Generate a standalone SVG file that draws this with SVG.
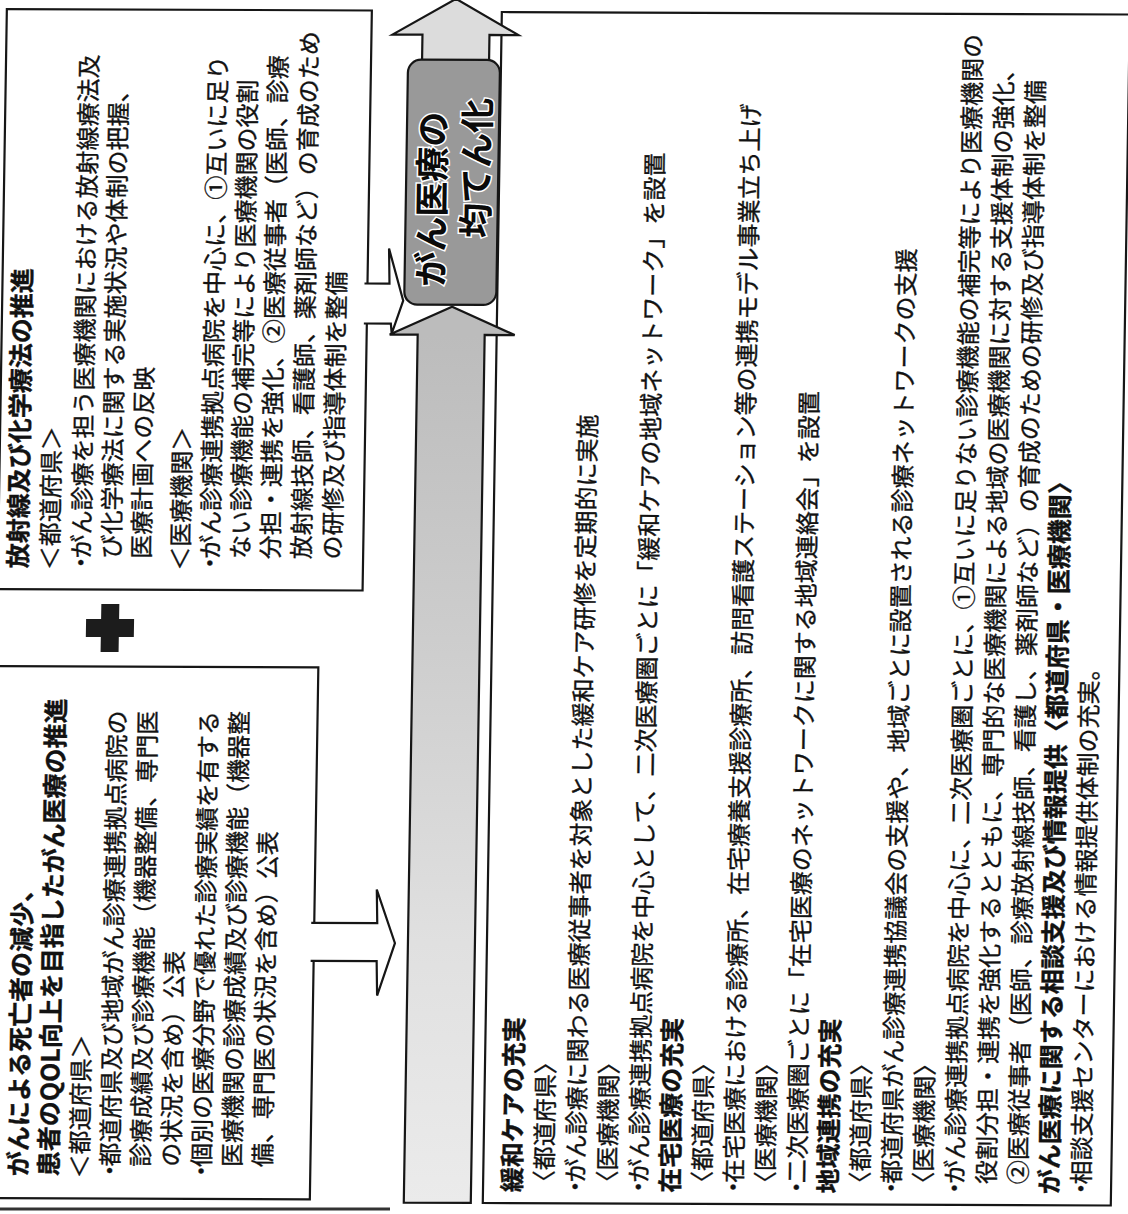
<svg xmlns="http://www.w3.org/2000/svg" width="1128" height="1214" viewBox="0 0 1128 1214">
<defs>
<style>
.t{font-family:"Noto Sans CJK JP","Noto Sans CJK SC",sans-serif;font-size:24px;fill:#121212;stroke:#121212;stroke-width:0.35}
.b{font-weight:700;font-size:25px}
.box{fill:none;stroke:#161616;stroke-width:2.2}
.arr{stroke:#161616;stroke-width:2.2;stroke-linejoin:miter}
.lab{font-family:"Noto Sans CJK JP","Noto Sans CJK SC",sans-serif;font-size:35px;font-weight:700;fill:#0a0a0a;stroke:#ffffff;stroke-width:3;paint-order:stroke}
</style>
<linearGradient id="shaft" gradientUnits="userSpaceOnUse" x1="0" y1="333" x2="0" y2="1201">
<stop offset="0" stop-color="#bcbcbc"/>
<stop offset="0.35" stop-color="#cdcdcd"/>
<stop offset="0.7" stop-color="#e0e0e0"/>
<stop offset="1" stop-color="#ebebeb"/>
</linearGradient>
</defs>
<rect width="1128" height="1214" fill="#ffffff"/>
<line x1="0" y1="1209" x2="390" y2="1209" stroke="#333" stroke-width="3"/>
<g transform="matrix(1,0.004,-0.016,1,0,0)">

<g id="node-radiation">
<rect class="box" x="7" y="9" width="365" height="580"/>
<g transform="rotate(-90)" class="t">
<text class="b" x="-568" y="36">放射線及び化学療法の推進</text>
<text x="-570" y="67.5">＜都道府県＞</text>
<text x="-574" y="99">・<tspan dx="-8">がん診療を担う医療機関における放射線療法及</tspan></text>
<text x="-558" y="129">び化学療法に関する実施状況や体制の把握、</text>
<text x="-558" y="159">医療計画への反映</text>
<text x="-570" y="198">＜医療機関＞</text>
<text x="-574" y="228">・<tspan dx="-8">がん診療連携拠点病院を中心に、①互いに足り</tspan></text>
<text x="-558" y="258">ない診療機能の補完等により医療機関の役割</text>
<text x="-558" y="288">分担・連携を強化、②医療従事者（医師、診療</text>
<text x="-558" y="319">放射線技師、看護師、薬剤師など）の育成のため</text>
<text x="-558" y="350">の研修及び指導体制を整備</text>
</g>
</g>

<g id="node-plus">
<polygon points="111,603.5 129,603.5 129,618.5 144,618.5 144,636.5 129,636.5 129,651.5 111,651.5 111,636.5 96,636.5 96,618.5 111,618.5" fill="#1c1c1c"/>
</g>

<g id="node-qol">
<rect class="box" x="7" y="666" width="322" height="532"/>
<g transform="rotate(-90)" class="t">
<text class="b" x="-1176" y="46">がんによる死亡者の減少、</text>
<text class="b" x="-1176" y="76.5">患者のQOL向上を目指したがん医療の推進</text>
<text x="-1178" y="107">＜都道府県＞</text>
<text x="-1182" y="137.5">・<tspan dx="-8">都道府県及び地域がん診療連携拠点病院の</tspan></text>
<text x="-1166" y="168">診療成績及び診療機能（機器整備、専門医</text>
<text x="-1166" y="198.5">の状況を含め）公表</text>
<text x="-1182" y="229">・<tspan dx="-8">個別の医療分野で優れた診療実績を有する</tspan></text>
<text x="-1166" y="259.5">医療機関の診療成績及び診療機能（機器整</text>
<text x="-1166" y="290">備、専門医の状況を含め）公表</text>
</g>
</g>

<g id="node-measures">
<rect class="box" x="502" y="10" width="628" height="1191"/>
<g transform="rotate(-90)" class="t">
<text class="b" x="-1190" y="540">緩和ケアの充実</text>
<text x="-1192" y="571.6">〈都道府県〉</text>
<text x="-1196" y="603.2">・<tspan dx="-8">がん診療に関わる医療従事者を対象とした緩和ケア研修を定期的に実施</tspan></text>
<text x="-1192" y="634.8">〈医療機関〉</text>
<text x="-1196" y="666.4">・<tspan dx="-8">がん診療連携拠点病院を中心として、二次医療圏ごとに「緩和ケアの地域ネットワーク」を設置</tspan></text>
<text class="b" x="-1190" y="698">在宅医療の充実</text>
<text x="-1192" y="729.6">〈都道府県〉</text>
<text x="-1196" y="761.2">・<tspan dx="-8">在宅医療における診療所、在宅療養支援診療所、訪問看護ステーション等の連携モデル事業立ち上げ</tspan></text>
<text x="-1192" y="792.8">〈医療機関〉</text>
<text x="-1196" y="824.4">・<tspan dx="-8">二次医療圏ごとに「在宅医療のネットワークに関する地域連絡会」を設置</tspan></text>
<text class="b" x="-1190" y="856">地域連携の充実</text>
<text x="-1192" y="887.6">〈都道府県〉</text>
<text x="-1196" y="919.2">・<tspan dx="-8">都道府県がん診療連携協議会の支援や、地域ごとに設置される診療ネットワークの支援</tspan></text>
<text x="-1192" y="950.8">〈医療機関〉</text>
<text x="-1196" y="982.4">・<tspan dx="-8">がん診療連携拠点病院を中心に、二次医療圏ごとに、①互いに足りない診療機能の補完等により医療機関の</tspan></text>
<text x="-1180" y="1014">役割分担・連携を強化するとともに、専門的な医療機関による地域の医療機関に対する支援体制の強化、</text>
<text x="-1180" y="1045.6">②医療従事者（医師、診療放射線技師、看護し、薬剤師など）の育成のための研修及び指導体制を整備</text>
<text class="b" x="-1190" y="1077.2">がん医療に関する相談支援及び情報提供〈都道府県・医療機関〉</text>
<text x="-1196" y="1108.8">・<tspan dx="-8">相談支援センターにおける情報提供体制の充実。</tspan></text>
</g>
</g>

<g id="connectors">
<path class="arr" fill="#ffffff" d="M369,282 H394 L393,247 L408,299 L397,332 L396,322 H369"/>
<path class="arr" fill="#ffffff" d="M326,921.5 H392 L391,888 L410,941.5 L393,994 L392,959.5 H326"/>
<polygon class="arr" fill="url(#shaft)" points="457,305 520,333 490,333 490,1201 423,1201 423,333 395,333"/>
<polygon class="arr" fill="#dcdcdc" points="456,-3 519,33 490,33 490,62 423,62 423,33 393,33"/>
</g>

<g id="node-equalization">
<rect x="409" y="58" width="92" height="245" rx="13" fill="#999999" stroke="#161616" stroke-width="2.2"/>
<g transform="rotate(-90)">
<text class="lab" x="-285" y="448">がん医療の</text>
<text class="lab" x="-236" y="492">均てん化</text>
</g>
</g>

</g>
</svg>
